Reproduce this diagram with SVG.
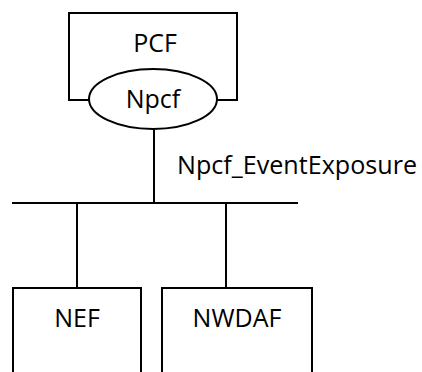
<svg xmlns="http://www.w3.org/2000/svg" width="422" height="372" viewBox="0 0 422 372">
<style>
.s{fill:none;stroke:#000;stroke-width:2}
.b{fill:#fff;stroke:#000;stroke-width:2}
text{font-family:"Open Sans","Liberation Sans",sans-serif;font-size:25px;fill:#000;text-anchor:middle}
</style>
<rect width="422" height="372" fill="#fff"/>
<g id="connectors">
<line class="s" x1="154" y1="128" x2="154" y2="204"/>
<line class="s" x1="12" y1="203" x2="298" y2="203"/>
<line class="s" x1="77" y1="203" x2="77" y2="288"/>
<line class="s" x1="226" y1="203" x2="226" y2="288"/>
<text x="177" y="174" style="text-anchor:start" textLength="240" lengthAdjust="spacingAndGlyphs">Npcf_EventExposure</text>
</g>
<g id="pcf">
<rect class="s" x="69" y="13" width="168" height="87"/>
<text x="155" y="52">PCF</text>
</g>
<g id="npcf">
<ellipse class="b" cx="153" cy="99" rx="64" ry="30"/>
<text x="153" y="108">Npcf</text>
</g>
<g id="nef">
<rect class="s" x="13" y="288" width="128" height="100"/>
<text x="77" y="327">NEF</text>
</g>
<g id="nwdaf">
<rect class="s" x="162" y="288" width="150" height="100"/>
<text x="237" y="327">NWDAF</text>
</g>
</svg>
